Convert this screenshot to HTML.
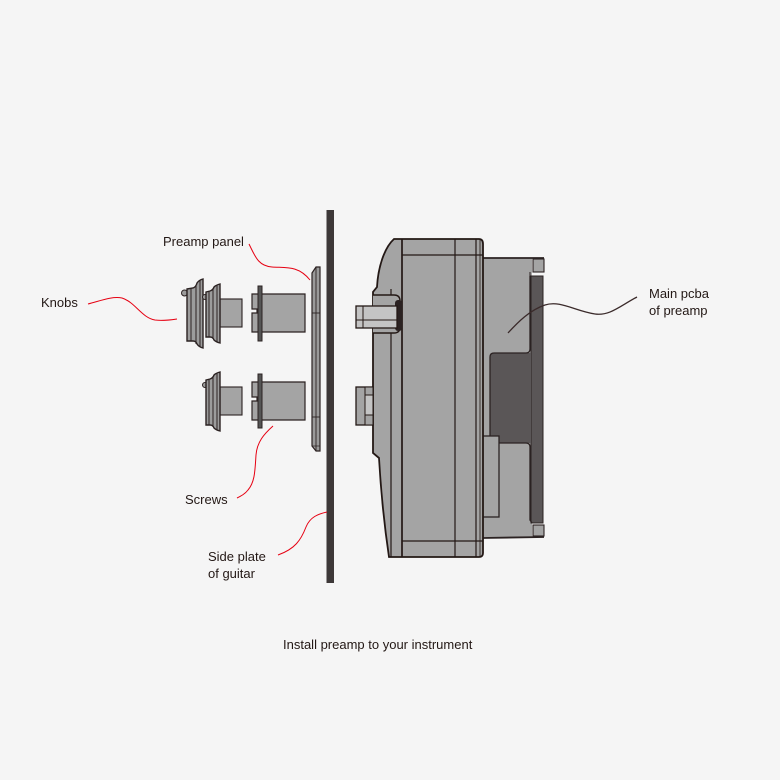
<!DOCTYPE html>
<html><head><meta charset="utf-8"><style>
html,body{margin:0;padding:0;background:#f5f5f5;}
svg{display:block;}
text{font-family:"Liberation Sans",sans-serif;font-size:13px;fill:#231815;}
</style></head><body>
<svg width="780" height="780" viewBox="0 0 780 780" xmlns="http://www.w3.org/2000/svg">
<rect width="780" height="780" fill="#f5f5f5"/>

<!-- side plate -->
<rect x="326.5" y="210" width="7.5" height="373" fill="#3d3838"/>

<!-- preamp panel -->
<path d="M312 273 L316 267 L320 267 L320 451 L316 451 L312 446 Z" fill="#9a9a9a" stroke="#2b2222" stroke-width="1.2"/>
<line x1="316" y1="267" x2="316" y2="451" stroke="#2b2222" stroke-width="0.9"/>
<line x1="312" y1="313" x2="320" y2="313" stroke="#2b2222" stroke-width="0.9"/>
<line x1="312" y1="417" x2="320" y2="417" stroke="#2b2222" stroke-width="0.9"/>
<line x1="312" y1="446" x2="320" y2="446" stroke="#2b2222" stroke-width="0.7"/>

<!-- knob 1 -->
<circle cx="184.5" cy="293" r="3" fill="#9c9c9c" stroke="#2b2222" stroke-width="1"/>
<path d="M187 289 L193 288 Q196 287 197 283 Q199 280 203 279 L203 348 Q199 347 197 344 Q196 341 193 341 L187 341 Z" fill="#9c9c9c" stroke="#2b2222" stroke-width="1.4"/>
<line x1="191" y1="288" x2="191" y2="341" stroke="#2b2222" stroke-width="1"/>
<line x1="196" y1="285" x2="196" y2="344" stroke="#2b2222" stroke-width="1"/>
<line x1="200" y1="280" x2="200" y2="347" stroke="#2b2222" stroke-width="1"/>

<!-- knob 2 -->
<circle cx="205" cy="297" r="2.5" fill="#9c9c9c" stroke="#2b2222" stroke-width="1"/>
<rect x="220" y="299" width="22" height="28" fill="#a4a4a4" stroke="#2b2222" stroke-width="1.1"/>
<path d="M206 292 L210 291 Q213 290 214 287 Q216 285 220 284 L220 343 Q216 342 214 340 Q213 337 210 337 L206 337 Z" fill="#9c9c9c" stroke="#2b2222" stroke-width="1.4"/>
<line x1="209" y1="291" x2="209" y2="337" stroke="#2b2222" stroke-width="1"/>
<line x1="213" y1="289" x2="213" y2="339" stroke="#2b2222" stroke-width="1"/>
<line x1="217" y1="285" x2="217" y2="342" stroke="#2b2222" stroke-width="1"/>

<!-- knob 3 -->
<circle cx="205" cy="385" r="2.5" fill="#9c9c9c" stroke="#2b2222" stroke-width="1"/>
<rect x="220" y="387" width="22" height="28" fill="#a4a4a4" stroke="#2b2222" stroke-width="1.1"/>
<path d="M206 380 L210 379 Q213 378 214 375 Q216 373 220 372 L220 431 Q216 430 214 428 Q213 425 210 425 L206 425 Z" fill="#9c9c9c" stroke="#2b2222" stroke-width="1.4"/>
<line x1="209" y1="379" x2="209" y2="425" stroke="#2b2222" stroke-width="1"/>
<line x1="213" y1="377" x2="213" y2="427" stroke="#2b2222" stroke-width="1"/>
<line x1="217" y1="373" x2="217" y2="430" stroke="#2b2222" stroke-width="1"/>

<!-- screw 1 -->
<path d="M252 294 L305 294 L305 332 L252 332 L252 313 L257 313 L257 309 L252 309 Z" fill="#a4a4a4" stroke="#2b2222" stroke-width="1.2"/>
<rect x="258" y="286" width="4" height="55" fill="#555" stroke="#2b2222" stroke-width="1"/>
<!-- screw 2 -->
<path d="M252 382 L305 382 L305 420 L252 420 L252 401 L257 401 L257 397 L252 397 Z" fill="#a4a4a4" stroke="#2b2222" stroke-width="1.2"/>
<rect x="258" y="374" width="4" height="54" fill="#555" stroke="#2b2222" stroke-width="1"/>

<!-- rear part -->
<rect x="482" y="258" width="50" height="279" fill="#a4a4a4"/>
<rect x="531" y="276" width="12" height="247" fill="#5a5657" stroke="#2b2222" stroke-width="1"/>
<path d="M490 436 L490 357 Q490 353 494 353 L531 353 L531 443 L499 443 L499 436 Z" fill="#5a5657"/>
<path d="M530 276 L530 349 Q530 353 526 353 L494 353 Q490 353 490 357 L490 436" fill="none" stroke="#2b2222" stroke-width="1.3"/>
<path d="M499 443 L526 443 Q530 443 530 447 L530 520 L532 523" fill="none" stroke="#2b2222" stroke-width="1.3"/>
<rect x="482" y="436" width="17" height="81" fill="#a4a4a4" stroke="#2b2222" stroke-width="1.3"/>
<rect x="533" y="259" width="11" height="13" fill="#a4a4a4" stroke="#2b2222" stroke-width="1.1"/>
<rect x="533" y="525" width="11" height="11" fill="#a4a4a4" stroke="#2b2222" stroke-width="1.1"/>
<line x1="482" y1="258" x2="544" y2="258" stroke="#2b2222" stroke-width="1.8"/>
<line x1="482" y1="538" x2="544" y2="537" stroke="#2b2222" stroke-width="1.8"/>
<line x1="530" y1="272" x2="530" y2="276" stroke="#2b2222" stroke-width="1"/>

<!-- main body -->
<path d="M394 239 L479 239 Q483 239 483 244 L483 553 Q483 557 479 557 L389 557 Q382 510 379 458 L373 453 L373 292 L377 287 C378 268 384 248 394 239 Z" fill="#a4a4a4" stroke="#231815" stroke-width="1.8"/>
<line x1="391" y1="289" x2="391" y2="557" stroke="#231815" stroke-width="1.2"/>
<line x1="402" y1="239" x2="402" y2="557" stroke="#231815" stroke-width="1.7"/>
<line x1="402" y1="255" x2="483" y2="255" stroke="#231815" stroke-width="1.2"/>
<line x1="402" y1="541" x2="483" y2="541" stroke="#231815" stroke-width="1.2"/>
<line x1="455" y1="239" x2="455" y2="557" stroke="#231815" stroke-width="1.2"/>
<line x1="476" y1="239" x2="476" y2="557" stroke="#231815" stroke-width="1.2"/>
<line x1="480" y1="239" x2="480" y2="557" stroke="#231815" stroke-width="0.8"/>

<!-- bracket + shaft -->
<path d="M373 295 L394 295 Q400 295 400 301 L400 327 Q400 333 394 333 L373 333" fill="#a4a4a4" stroke="#231815" stroke-width="1.4"/>
<rect x="395" y="300" width="7" height="31" rx="3" fill="#2b2222"/>
<rect x="356" y="306" width="41" height="22" fill="#c4c4c4" stroke="#231815" stroke-width="1.3"/>
<line x1="363" y1="306" x2="363" y2="328" stroke="#231815" stroke-width="1"/>
<line x1="356" y1="320" x2="397" y2="320" stroke="#231815" stroke-width="1"/>

<!-- jack -->
<rect x="356" y="387" width="17" height="38" fill="#a4a4a4" stroke="#231815" stroke-width="1.3"/>
<rect x="365" y="387" width="8" height="8" fill="#a4a4a4" stroke="#231815" stroke-width="1"/>
<rect x="365" y="395" width="8" height="20" fill="#c4c4c4" stroke="#231815" stroke-width="1"/>
<rect x="365" y="415" width="8" height="10" fill="#a4a4a4" stroke="#231815" stroke-width="1"/>

<!-- leader lines -->
<g fill="none" stroke="#e60012" stroke-width="1">
<path d="M249 244 C255 256 258 266 272 267 C285 268 298 265 310 280"/>
<path d="M88 304 C100 301 112 296 122 298 C135 302 142 318 155 320 C163 321 170 320 177 319"/>
<path d="M273 426 C264 434 257 442 256 455 C255 470 255 482 248 490 C245 494 241 496 237 498"/>
<path d="M327 512 C318 514 310 517 306 527 C301 540 295 549 278 555"/>
</g>
<path d="M637 297 C620 306 610 316 595 314 C575 311 560 300 545 305 C530 310 518 322 508 333" fill="none" stroke="#3a2a2a" stroke-width="1.3"/>

<!-- labels -->
<text x="163" y="246">Preamp panel</text>
<text x="41" y="307">Knobs</text>
<text x="185" y="504">Screws</text>
<text x="208" y="561">Side plate</text>
<text x="208" y="578">of guitar</text>
<text x="649" y="298">Main pcba</text>
<text x="649" y="315">of preamp</text>
<text x="283" y="649">Install preamp to your instrument</text>
</svg>
</body></html>
